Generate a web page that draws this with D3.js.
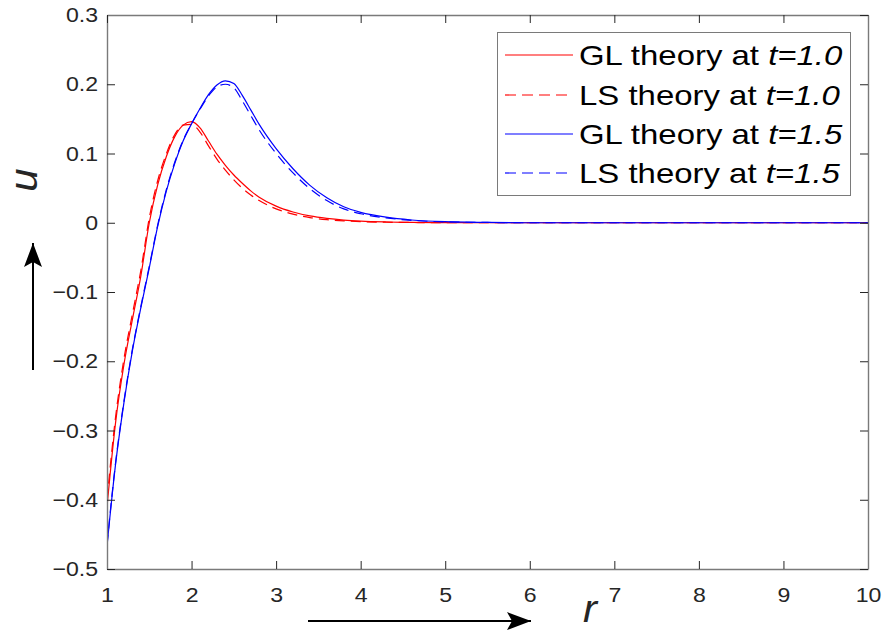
<!DOCTYPE html>
<html>
<head>
<meta charset="utf-8">
<script src="https://cdn.jsdelivr.net/npm/d3@7"></script>
<style>
  html, body { margin: 0; padding: 0; background: #fff; }
  svg { display: block; font-family: "Liberation Sans", Arial, sans-serif; }
</style>
</head>
<body>
<svg id="chart" width="886" height="632"></svg>
<script>
// Radial coordinate samples
const rValues = [1.0, 1.1, 1.2, 1.3, 1.4, 1.5, 1.6, 1.7, 1.8, 1.9, 2.0, 2.1, 2.2, 2.3, 2.4, 2.5, 2.6, 2.7, 2.8, 3.0, 3.2, 3.4, 3.6, 3.8, 4.0, 4.3, 4.6, 5.0, 5.5, 6.0, 7.0, 8.0, 9.0, 10.0];

// u(r) for each model and time
const glT10 = [-0.410, -0.290, -0.205, -0.140, -0.077, 0.000, 0.055, 0.095, 0.124, 0.141, 0.146, 0.137, 0.118, 0.099, 0.083, 0.069, 0.057, 0.046, 0.037, 0.024, 0.0155, 0.0098, 0.0062, 0.0038, 0.0023, 0.0011, 0.0005, 0.0002, 0.0, 0.0, 0.0, 0.0, 0.0, 0.0];
const lsT10 = [-0.400, -0.282, -0.197, -0.132, -0.069, 0.007, 0.061, 0.099, 0.127, 0.141, 0.142, 0.131, 0.111, 0.092, 0.076, 0.062, 0.050, 0.040, 0.032, 0.020, 0.0125, 0.0075, 0.0045, 0.0027, 0.0016, 0.0008, 0.0004, 0.0001, 0.0, 0.0, 0.0, 0.0, 0.0, 0.0];
const glT15 = [-0.467, -0.350, -0.260, -0.185, -0.123, -0.065, -0.005, 0.045, 0.085, 0.118, 0.143, 0.165, 0.185, 0.199, 0.205, 0.201, 0.184, 0.163, 0.142, 0.107, 0.078, 0.054, 0.036, 0.023, 0.015, 0.008, 0.004, 0.0015, 0.0005, 0.0, 0.0, 0.0, 0.0, 0.0];
const lsT15 = [-0.465, -0.348, -0.258, -0.183, -0.121, -0.063, -0.003, 0.047, 0.087, 0.119, 0.143, 0.164, 0.183, 0.196, 0.200, 0.195, 0.176, 0.155, 0.134, 0.100, 0.072, 0.049, 0.032, 0.020, 0.013, 0.007, 0.0035, 0.0013, 0.0004, 0.0, 0.0, 0.0, 0.0, 0.0];

const seriesNames = ["GL theory at ", "LS theory at ", "GL theory at ", "LS theory at "];
const seriesTimes = ["t=1.0", "t=1.0", "t=1.5", "t=1.5"];
const seriesColors = ["#ff0000", "#ff0000", "#0000ff", "#0000ff"];
const seriesDashed = [false, true, false, true];
const seriesValues = [glT10, lsT10, glT15, lsT15];

const xTicks = [1, 2, 3, 4, 5, 6, 7, 8, 9, 10];
const yTicks = [-0.5, -0.4, -0.3, -0.2, -0.1, 0, 0.1, 0.2, 0.3];

const plot = { left: 107, right: 868, top: 15, bottom: 569 };
const svg = d3.select("#chart");

const x = d3.scaleLinear().domain([1, 10]).range([plot.left, plot.right]);
const y = d3.scaleLinear().domain([-0.5, 0.3]).range([plot.bottom, plot.top]);

const axisColor = "#7a7a7a";
const textColor = "#262626";
const labelStretch = 1.1;   // horizontal stretch of tick label glyphs
const legendStretch = 1.22; // horizontal stretch of legend glyphs

const defs = svg.append("defs");
// clip region for curves
defs.append("clipPath").attr("id", "plotClip")
  .append("rect")
  .attr("x", plot.left).attr("y", plot.top)
  .attr("width", plot.right - plot.left).attr("height", plot.bottom - plot.top);

// curves
const line = d3.line()
  .x(d => x(d[0]))
  .y(d => y(d[1]))
  .curve(d3.curveMonotoneX);

const curves = svg.append("g").attr("clip-path", "url(#plotClip)");
seriesValues.forEach((vals, i) => {
  curves.append("path")
    .datum(rValues.map((r, k) => [r, vals[k]]))
    .attr("d", line)
    .attr("fill", "none")
    .attr("stroke", seriesColors[i])
    .attr("stroke-width", 1.2)
    .attr("stroke-dasharray", seriesDashed[i] ? "10,6" : null);
});

// axes with inward ticks (box style)
const tickLen = 8;
function styleAxis(g) {
  g.selectAll(".domain").attr("stroke", axisColor).attr("stroke-width", 1.4);
  g.selectAll(".tick line").attr("stroke", textColor).attr("stroke-width", 1);
  g.selectAll(".tick text").attr("fill", textColor).attr("font-size", 21)
    .attr("font-family", "'Liberation Sans', Arial, sans-serif");
}
const fmtY = d => (Math.abs(d) < 1e-9 ? "0" : d3.format(".1f")(d));

const bottomAxis = svg.append("g")
  .attr("transform", `translate(0,${plot.bottom})`)
  .call(d3.axisBottom(x).tickValues(xTicks).tickSizeInner(-tickLen).tickSizeOuter(0).tickPadding(18).tickFormat(d3.format("d")));
styleAxis(bottomAxis);
bottomAxis.selectAll(".tick text").attr("transform", `scale(${labelStretch},1)`);

const leftAxis = svg.append("g")
  .attr("transform", `translate(${plot.left},0)`)
  .call(d3.axisLeft(y).tickValues(yTicks).tickSizeInner(-tickLen).tickSizeOuter(0).tickPadding(9).tickFormat(fmtY));
styleAxis(leftAxis);
leftAxis.selectAll(".tick text")
  .attr("x", -9 / labelStretch)
  .attr("transform", `scale(${labelStretch},1)`);

const topAxis = svg.append("g")
  .attr("transform", `translate(0,${plot.top})`)
  .call(d3.axisTop(x).tickValues(xTicks).tickSizeInner(-tickLen).tickSizeOuter(0).tickFormat(""));
styleAxis(topAxis);

const rightAxis = svg.append("g")
  .attr("transform", `translate(${plot.right},0)`)
  .call(d3.axisRight(y).tickValues(yTicks).tickSizeInner(-tickLen).tickSizeOuter(0).tickFormat(""));
styleAxis(rightAxis);

// axis titles
svg.append("text")
  .attr("transform", "translate(37,180) rotate(-90) scale(1.1,1)")
  .attr("text-anchor", "middle")
  .attr("font-size", 38)
  .attr("font-style", "italic")
  .attr("fill", textColor)
  .text("u");

svg.append("text")
  .attr("transform", "translate(590,622) scale(1.1,1)")
  .attr("text-anchor", "middle")
  .attr("font-size", 38)
  .attr("font-style", "italic")
  .attr("fill", textColor)
  .text("r");

// direction arrows
defs.append("marker")
  .attr("id", "arrowHead")
  .attr("viewBox", "0 0 24 18")
  .attr("refX", 24).attr("refY", 9)
  .attr("markerWidth", 24).attr("markerHeight", 18)
  .attr("markerUnits", "userSpaceOnUse")
  .attr("orient", "auto")
  .append("path")
  .attr("d", "M0,0 L24,9 L0,18 L5,9 Z")
  .attr("fill", "#000");

svg.append("line")
  .attr("x1", 33).attr("y1", 370).attr("x2", 33).attr("y2", 243)
  .attr("stroke", "#000").attr("stroke-width", 2)
  .attr("marker-end", "url(#arrowHead)");

svg.append("line")
  .attr("x1", 308).attr("y1", 621).attr("x2", 531).attr("y2", 621)
  .attr("stroke", "#000").attr("stroke-width", 2)
  .attr("marker-end", "url(#arrowHead)");

// legend
const legend = svg.append("g");
legend.append("rect")
  .attr("x", 497.5).attr("y", 32.5)
  .attr("width", 353).attr("height", 163)
  .attr("fill", "#fff")
  .attr("stroke", axisColor).attr("stroke-width", 1);

const rowY = [55, 95, 134, 173];
seriesNames.forEach((name, i) => {
  legend.append("line")
    .attr("x1", 505).attr("x2", 573)
    .attr("y1", rowY[i]).attr("y2", rowY[i])
    .attr("stroke", seriesColors[i])
    .attr("stroke-width", 1.2)
    .attr("stroke-dasharray", seriesDashed[i] ? "11,6" : null);
  const t = legend.append("text")
    .attr("transform", `translate(579,${rowY[i] + 10}) scale(${legendStretch},1)`)
    .attr("font-size", 27)
    .attr("fill", "#000");
  t.append("tspan").text(name);
  t.append("tspan").attr("font-style", "italic").text(seriesTimes[i]);
});
</script>
</body>
</html>
